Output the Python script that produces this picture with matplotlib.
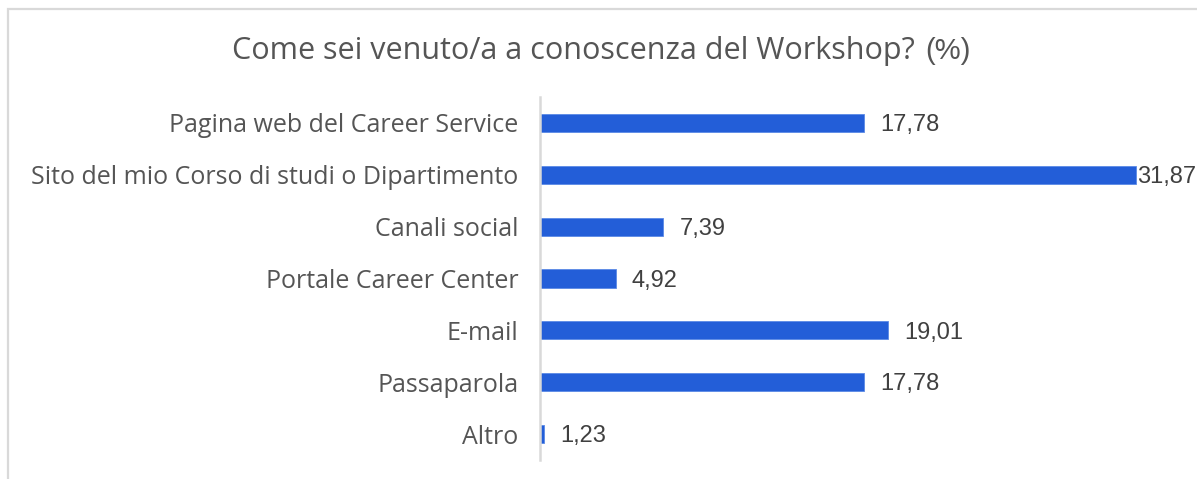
import matplotlib
matplotlib.use("Agg")
import matplotlib.pyplot as plt
from matplotlib.patches import Rectangle

# data
categories = ["Pagina web del Career Service",
              "Sito del mio Corso di studi o Dipartimento",
              "Canali social",
              "Portale Career Center",
              "E-mail",
              "Passaparola",
              "Altro"]
values = [17.78, 31.87, 7.39, 4.92, 19.01, 17.78, 1.23]
value_labels = ["17,78", "31,87", "7,39", "4,92", "19,01", "17,78", "1,23"]
title_main = "Come sei venuto/a a conoscenza del Workshop?"
title_unit = "(%)"

W, H = 1197, 479
fig = plt.figure(figsize=(W / 100, H / 100), dpi=100)
fig.patch.set_facecolor("white")

# light frame, only top and left edges visible
fig.patches.append(Rectangle((8 / W, -0.1), 1.2, 1 - 9 / H + 0.1,
                             transform=fig.transFigure, fill=False,
                             edgecolor="#d9d9d9", linewidth=1.6))

ax = fig.add_axes([540 / W, 1 - 460 / H, 599 / W, 363 / H])
pos = list(range(len(categories)))
ax.barh(pos, values, height=0.35, color="#235ed8", edgecolor="#5b8ae6",
        linewidth=0.6)
ax.set_xlim(1.0, 32.0)
ax.set_ylim(len(categories) - 0.5, -0.5)
ax.set_yticks(pos)
ax.set_yticklabels(categories, fontfamily="Open Sans", fontsize=18,
                   color="#555555")
ax.tick_params(axis="y", length=0, pad=15.5)
ax.set_xticks([])
for s in ["top", "right", "bottom"]:
    ax.spines[s].set_visible(False)
ax.spines["left"].set_color("#d9d9d9")
ax.spines["left"].set_linewidth(1.8)

fig.canvas.draw()
r = fig.canvas.get_renderer()
for p, v, lab in zip(pos, values, value_labels):
    t = ax.annotate(lab, (v, p), xytext=(11.5, -1.6), textcoords="offset points",
                    va="center", ha="left", fontfamily="Liberation Sans",
                    fontsize=17, color="#404040", annotation_clip=False)
    ext = t.get_window_extent(r)
    if ext.x1 > W - 1:
        # keep the label inside the chart
        t.xyann = (0.5, -1.6)

t1 = fig.text(232 / W, 1 - 59 / H, title_main, fontfamily="Open Sans",
              fontsize=22, color="#555555", va="baseline", ha="left")
fig.canvas.draw()
e1 = t1.get_window_extent(fig.canvas.get_renderer())
fig.text((e1.x1 + 10) / W, 1 - 59 / H, title_unit, fontfamily="Liberation Sans",
         fontsize=21, color="#555555", va="baseline", ha="left")

fig.savefig("out.png", dpi=100, facecolor="white")
